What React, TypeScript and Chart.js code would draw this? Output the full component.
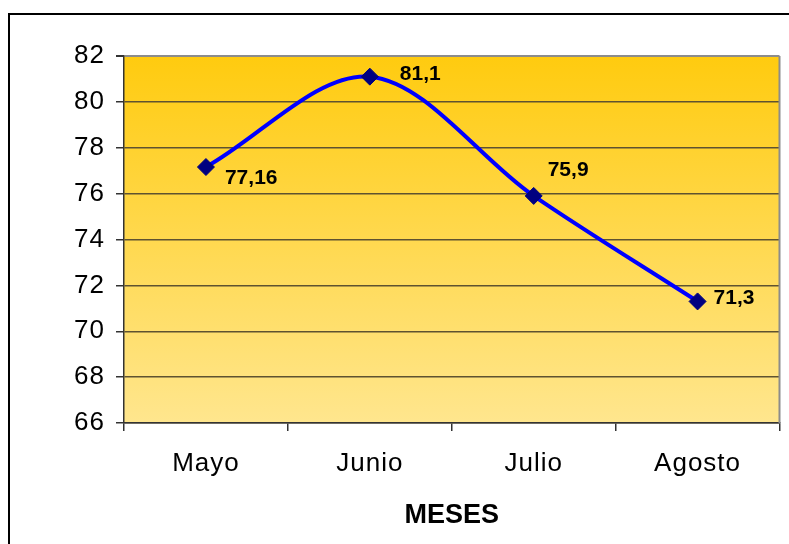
import React, { useEffect, useRef } from "react";
import { Chart, registerables } from "chart.js";

Chart.register(...registerables);

// Monthly values
const months = ["Mayo", "Junio", "Julio", "Agosto"];
const values = [77.16, 81.1, 75.9, 71.3];
const valueLabels = values.map((v) => String(v).replace(".", ","));

// Value axis
const yMin = 66;
const yMax = 82;
const yStep = 2;
const xTitle = "MESES";

// Where each value label sits relative to its point: [dx to text start, dy to text middle]
const labelOffsets: [number, number][] = [
  [19, 11],
  [30, -2],
  [14, -26],
  [16, -3],
];

const FONT = "'Liberation Sans', Arial, sans-serif";

const framePlugin = {
  id: "frame",
  beforeDraw(chart: any) {
    const { ctx, chartArea: a } = chart;
    ctx.save();
    ctx.fillStyle = "#ffffff";
    ctx.fillRect(0, 0, chart.width, chart.height);
    ctx.strokeStyle = "#000000";
    ctx.lineWidth = 2;
    ctx.strokeRect(9, 14, chart.width + 20, chart.height + 20);
    const g = ctx.createLinearGradient(0, a.top, 0, a.bottom);
    g.addColorStop(0, "#FFCB0F");
    g.addColorStop(1, "#FFE68E");
    ctx.fillStyle = g;
    ctx.fillRect(a.left, a.top, a.right - a.left, a.bottom - a.top);
    ctx.restore();
    // axis text is drawn a little wider
    ctx.letterSpacing = "1px";
  },
  beforeDatasetsDraw(chart: any) {
    const { ctx, chartArea: a } = chart;
    ctx.letterSpacing = "0px";
    ctx.save();
    ctx.strokeStyle = "#8c8c8c";
    ctx.lineWidth = 2;
    ctx.beginPath();
    ctx.moveTo(a.right, a.top);
    ctx.lineTo(a.right, a.bottom);
    ctx.stroke();
    ctx.restore();
  },
  afterDatasetsDraw(chart: any) {
    const { ctx } = chart;
    const meta = chart.getDatasetMeta(0);
    ctx.save();
    ctx.letterSpacing = "0px";
    ctx.fillStyle = "#000000";
    ctx.font = `bold 21px ${FONT}`;
    ctx.textAlign = "left";
    ctx.textBaseline = "middle";
    meta.data.forEach((pt: any, i: number) => {
      const [dx, dy] = labelOffsets[i];
      ctx.fillText(valueLabels[i], pt.x + dx, pt.y + dy);
    });
    ctx.restore();
  },
  afterDraw(chart: any) {
    const { ctx, chartArea: a } = chart;
    ctx.save();
    ctx.letterSpacing = "0px";
    ctx.fillStyle = "#000000";
    ctx.font = `bold 27px ${FONT}`;
    ctx.textAlign = "center";
    ctx.textBaseline = "middle";
    ctx.fillText(xTitle, (a.left + a.right) / 2, 516);
    ctx.restore();
  },
};

export default function App() {
  const ref = useRef<HTMLCanvasElement>(null);

  useEffect(() => {
    const chart = new Chart(ref.current as HTMLCanvasElement, {
      type: "line",
      data: {
        labels: months,
        datasets: [
          {
            data: values,
            borderColor: "#0000FF",
            borderWidth: 4,
            tension: 0.33,
            pointStyle: "rectRot",
            pointRadius: 8.5,
            pointBackgroundColor: "#000080",
            pointBorderColor: "#000080",
            pointBorderWidth: 1,
            fill: false,
          },
        ],
      },
      options: {
        animation: false,
        responsive: false,
        devicePixelRatio: 1,
        layout: { padding: { left: 0, top: 56, right: 8, bottom: 0 } },
        plugins: {
          legend: { display: false },
          tooltip: { enabled: false },
        },
        scales: {
          x: {
            type: "category",
            offset: true,
            grid: {
              offset: true,
              drawOnChartArea: false,
              drawTicks: true,
              tickLength: 8,
              tickColor: "#333333",
              lineWidth: 1.5,
            },
            border: { color: "#333333", width: 1.5 },
            ticks: {
              color: "#000000",
              font: { family: FONT, size: 26 },
              padding: 17,
              maxRotation: 0,
            },
            afterFit: (s: any) => {
              s.height = 121;
            },
          },
          y: {
            min: yMin,
            max: yMax,
            ticks: {
              stepSize: yStep,
              color: "#000000",
              font: { family: FONT, size: 26 },
              padding: 11,
            },
            grid: {
              color: (c: any) => (c.tick && c.tick.value === yMax ? "#8c8c8c" : "#5e5230"),
              lineWidth: (c: any) => (c.tick && c.tick.value === yMax ? 2 : 1.5),
              tickLength: 8,
              tickColor: "#333333",
            },
            border: { color: "#333333", width: 1.5 },
            afterFit: (s: any) => {
              s.width = 124;
            },
          },
        },
      },
      plugins: [framePlugin],
    });
    return () => chart.destroy();
  }, []);

  return (
    <div
      style={{
        position: "fixed",
        left: 0,
        top: 0,
        width: 789,
        height: 544,
        background: "#ffffff",
      }}
    >
      <canvas ref={ref} width={789} height={544} style={{ display: "block", width: 789, height: 544 }} />
    </div>
  );
}
